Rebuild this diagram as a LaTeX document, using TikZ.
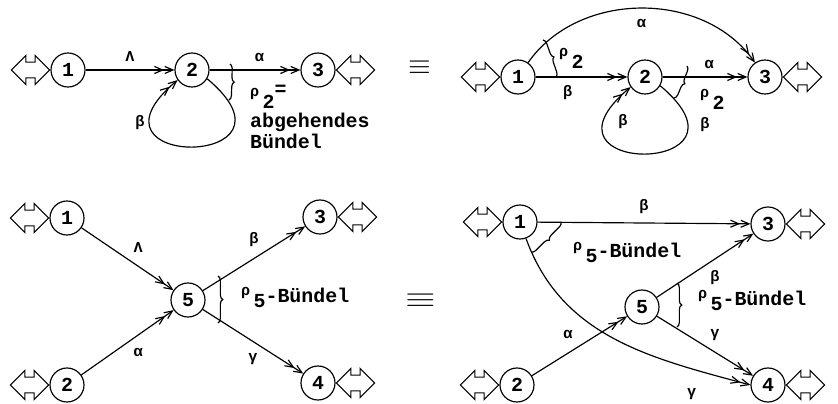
\documentclass[tikz,border=0pt]{standalone}
\usepackage{fontspec}
\setmainfont{Liberation Mono}
\usepackage{graphicx}
\usetikzlibrary{positioning,shapes.arrows,arrows.meta,decorations.pathreplacing}

\newcommand\rhoidx[1]{\raisebox{6pt}{\fontsize{13}{13}\selectfont ρ}\,\raisebox{-4pt}{#1}}

\tikzset{
  station/.style={circle,draw,line width=1pt,minimum size=1.02cm,inner sep=0pt,font=\fontsize{17}{17}\selectfont\bfseries},
  port/.style={double arrow,draw,line width=0.9pt,minimum height=1.15cm,double arrow head extend=0.2cm,inner xsep=0pt,inner ysep=0.22cm},
  flow/.style={line width=1pt,-{Straight Barb[length=7pt,width=6pt]Straight Barb[length=7pt,width=6pt]}},
  lbl/.style={font=\fontsize{13}{13}\selectfont\bfseries},
  txt/.style={font=\fontsize{17}{18}\selectfont\bfseries},
  bundle/.style={decorate,decoration={brace,amplitude=4pt},line width=1pt},
  equiv/.style={font=\fontsize{30}{30}\selectfont}
}

\begin{document}
\begin{tikzpicture}[x=0.03cm,y=0.03cm]
  \useasboundingbox (0,0) rectangle (838,-404);
  % oben links
  \node[station] (a1) at (68,-70) {1};
  \node[station] (a2) at (192,-70) {2};
  \node[station] (a3) at (318,-70) {3};
  \node[port,left=0pt of a1] (pa1) {};
  \node[port,right=0pt of a3] (pa3) {};
  \draw[flow] (a1) -- (a2) node[lbl,midway,above=3pt] {Λ};
  \draw[flow] (a2) -- (a3) node[lbl,pos=0.55,above=3pt] {α};
  \draw[flow] (a2.-30) .. controls +(-40:140) and +(-140:140) .. (a2.-145);
  \node[lbl] (la2) at (140,-123) {β};
  \draw[bundle] (230,-64) -- (229,-100);
  \node[txt,anchor=base west] (ra2) at (246,-104) {\rhoidx{2}\raisebox{7pt}{=}};
  \node[txt,anchor=base west] (ta2) at (246,-128) {abgehendes};
  \node[txt,anchor=base west] (tb2) at (246,-149) {Bündel};
  \node[equiv] (eq1) at (420,-68) {$\equiv$};
  % oben rechts
  \node[station] (b1) at (518,-77) {1};
  \node[station] (b2) at (645,-77) {2};
  \node[station] (b3) at (765,-77) {3};
  \node[port,left=0pt of b1] (pb1) {};
  \node[port,right=0pt of b3] (pb3) {};
  \draw[flow] (b1.55) to[out=55,in=125] node[lbl,midway,below=6pt] {α} (b3.125);
  \draw[flow] (b1) -- (b2) node[lbl,pos=0.35,below=3pt] {β};
  \draw[flow] (b2) -- (b3) node[lbl,pos=0.55,above=3pt] {α};
  \draw[flow] (b2.-30) .. controls +(-40:140) and +(-140:140) .. (b2.-145);
  \node[lbl] (lb2) at (623,-122) {β};
  \draw[bundle] (543,-40) -- (556,-77);
  \node[txt,anchor=base west] (rb1) at (555,-64) {\rhoidx{2}};
  \draw[bundle] (687,-66) -- (674,-98);
  \node[txt,anchor=base west] (rb2) at (696,-105) {\rhoidx{2}};
  \node[lbl] (lb3) at (705,-125) {β};
  % unten links
  \node[station] (c1) at (67,-218) {1};
  \node[station] (c2) at (67,-385) {2};
  \node[station] (c5) at (188,-300) {5};
  \node[station] (c3) at (320,-217) {3};
  \node[station] (c4) at (318,-383) {4};
  \node[port,left=0pt of c1] (pc1) {};
  \node[port,left=0pt of c2] (pc2) {};
  \node[port,right=0pt of c3] (pc3) {};
  \node[port,right=0pt of c4] (pc4) {};
  \draw[flow] (c1) -- (c5) node[lbl,midway,above right=2pt] {Λ};
  \draw[flow] (c2) -- (c5) node[lbl,midway,below right=2pt] {α};
  \draw[flow] (c5) -- (c3) node[lbl,midway,above=6pt] {β};
  \draw[flow] (c5) -- (c4) node[lbl,midway,below=6pt] {γ};
  \draw[bundle] (218,-276) -- (218,-323);
  \node[txt,anchor=base west] (rc5) at (237,-303) {\rhoidx{5}-Bündel};
  \node[equiv] (eq2) at (421,-301) {\scalebox{1.35}[1]{$\equiv$}};
  % unten rechts
  \node[station] (d1) at (520,-222) {1};
  \node[station] (d3) at (768,-224) {3};
  \node[station] (d5) at (642,-307) {5};
  \node[station] (d2) at (517,-385) {2};
  \node[station] (d4) at (768,-385) {4};
  \node[port,left=0pt of d1] (pd1) {};
  \node[port,left=0pt of d2] (pd2) {};
  \node[port,right=0pt of d3] (pd3) {};
  \node[port,right=0pt of d4] (pd4) {};
  \draw[flow] (d1) -- (d3) node[lbl,midway,above=4pt] {β};
  \draw[flow] (d1.-70) to[out=-70,in=165] node[lbl,pos=0.8,below=13pt] {γ} (d4.west);
  \draw[flow] (d2) -- (d5) node[lbl,midway,above left=3pt] {α};
  \draw[flow] (d5) -- (d3) node[lbl,midway,below right=1pt] {β};
  \draw[flow] (d5) -- (d4) node[lbl,midway,above right=1pt] {γ};
  \draw[bundle] (561,-222) -- (531,-252);
  \node[txt,anchor=base west] (rd1) at (569,-258) {\rhoidx{5}-Bündel};
  \draw[bundle] (677,-283) -- (677,-327);
  \node[txt,anchor=base west] (rd5) at (694,-306) {\rhoidx{5}-Bündel};
\end{tikzpicture}
\end{document}
